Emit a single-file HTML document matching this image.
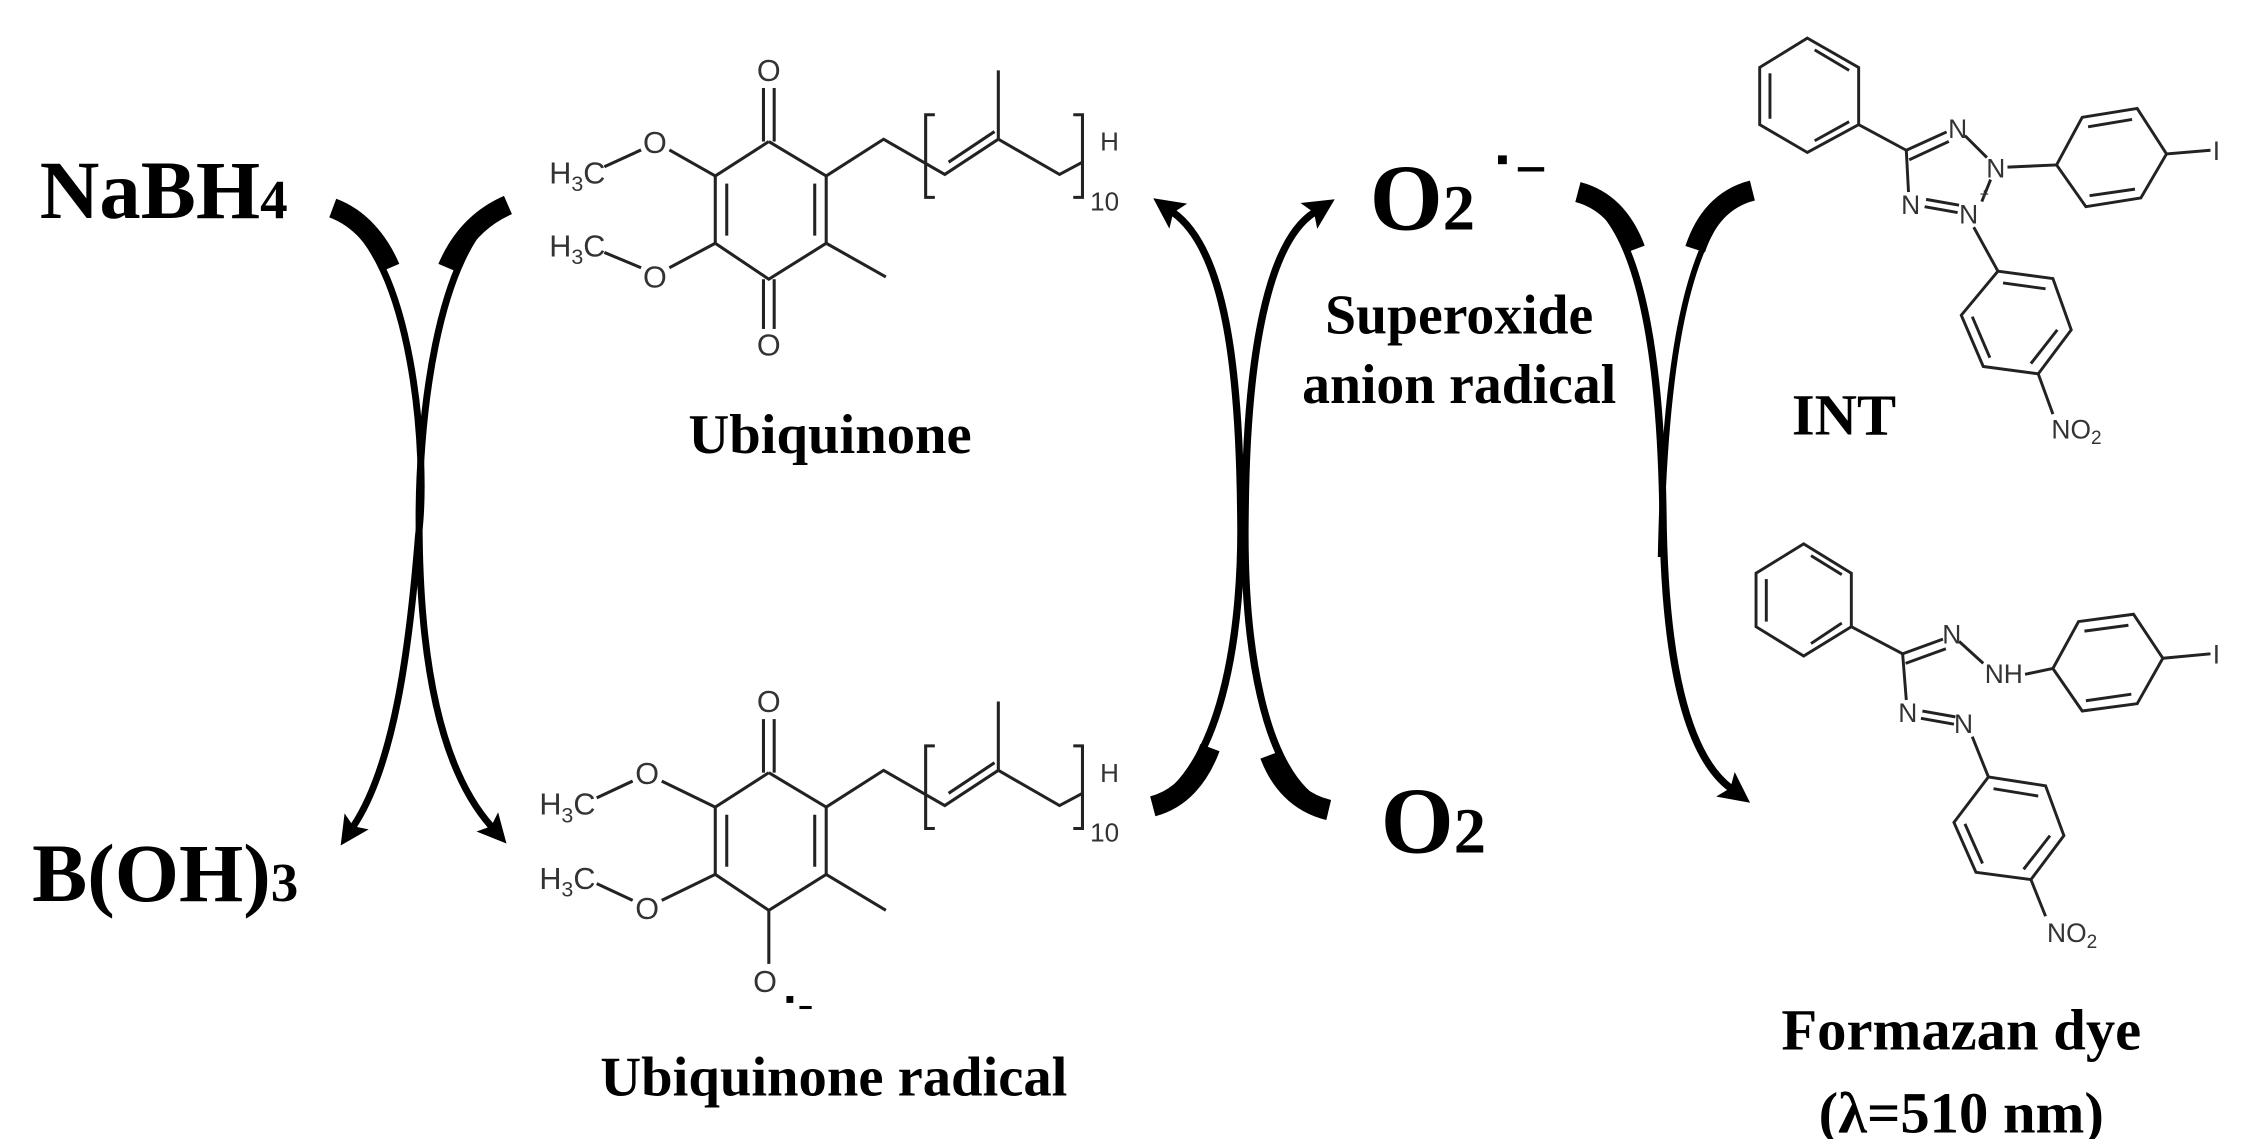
<!DOCTYPE html>
<html><head><meta charset="utf-8"><style>
html,body{margin:0;padding:0;background:#fff;}
svg{display:block;}
.big{font-family:"Liberation Serif",serif;font-weight:bold;fill:#000;}
.lab{font-family:"Liberation Sans",sans-serif;fill:#333;}
</style></head><body>
<svg width="2249" height="1139" viewBox="0 0 2249 1139" xmlns="http://www.w3.org/2000/svg">
<defs>
<marker id="ah" viewBox="0 0 10 10" refX="2" refY="5" markerWidth="4.2" markerHeight="4.2" orient="auto" markerUnits="strokeWidth">
<path d="M0,0 L10,5 L0,10 L2,5 Z" fill="#000"/>
</marker>
</defs>
<!-- LEFT HALF (zoom1 coords, scale .765) -->
<g transform="scale(0.765)">
<text class="big" x="52" y="285" font-size="108">NaBH<tspan font-size="72">4</tspan></text>
<text class="big" x="42" y="1178" font-size="108">B(OH)<tspan font-size="72">3</tspan></text>
<text class="big" x="1085" y="592" font-size="74" text-anchor="middle">Ubiquinone</text>
<text class="big" x="1090" y="1432" font-size="74" text-anchor="middle">Ubiquinone radical</text>

<!-- arrows -->
<g fill="none" stroke="#000" stroke-linecap="butt">
<path d="M440,280 C540,330 560,600 547,700 C535,850 515,1000 462,1080" stroke-width="9" marker-end="url(#ah)"/>
<path d="M435,272 C470,285 495,315 510,350" stroke-width="26"/>
<path d="M660,270 C570,320 545,560 548,700 C550,880 580,1010 642,1080" stroke-width="9" marker-end="url(#ah)"/>
<path d="M664,268 C625,285 600,315 585,350" stroke-width="26"/>
</g>

<!-- top ubiquinone -->
<g id="ubq" stroke="#222" stroke-width="4" fill="none">
<polyline points="1005,185 1080,230 1080,318 1005,365 935,318 935,230 1005,185"/>
<line x1="950" y1="240" x2="950" y2="308"/>
<line x1="1065" y1="240" x2="1065" y2="308"/>
<line x1="998" y1="115" x2="998" y2="185"/><line x1="1012" y1="115" x2="1012" y2="185"/>
<line x1="935" y1="230" x2="875" y2="196"/>
<line x1="838" y1="196" x2="790" y2="218"/>
<line x1="935" y1="318" x2="875" y2="350"/>
<line x1="838" y1="350" x2="790" y2="330"/>
<line x1="1080" y1="318" x2="1158" y2="362"/>
<polyline points="1080,230 1155,182 1235,228 1305,182 1385,228 1415,212"/>
<line x1="1240" y1="212" x2="1300" y2="172"/>
<line x1="1305" y1="182" x2="1305" y2="92"/>
<polyline points="1222,150 1210,150 1210,258 1222,258"/>
<polyline points="1403,150 1415,150 1415,258 1403,258"/>
</g>
<g class="lab" font-size="40">
<text x="1005" y="106" text-anchor="middle">O</text>
<text x="856" y="200" text-anchor="middle">O</text>
<text x="856" y="376" text-anchor="middle">O</text>
<text x="718" y="240">H<tspan font-size="28" dy="10">3</tspan><tspan dy="-10">C</tspan></text>
<text x="718" y="335">H<tspan font-size="28" dy="10">3</tspan><tspan dy="-10">C</tspan></text>
<text x="1438" y="197" font-size="34">H</text>
<text x="1425" y="275" font-size="34">10</text>
</g>
<!-- bottom O top -->
<g stroke="#222" stroke-width="4" fill="none">
<line x1="998" y1="365" x2="998" y2="430"/><line x1="1012" y1="365" x2="1012" y2="430"/>
</g>
<text class="lab" x="1005" y="465" font-size="40" text-anchor="middle">O</text>

<!-- bottom radical -->
<g transform="translate(-5,825)">
<g stroke="#222" stroke-width="4" fill="none">
<polyline points="1010,185 1085,230 1085,318 1010,365 940,318 940,230 1010,185"/>
<line x1="955" y1="240" x2="955" y2="308"/>
<line x1="1070" y1="240" x2="1070" y2="308"/>
<line x1="1003" y1="115" x2="1003" y2="185"/><line x1="1017" y1="115" x2="1017" y2="185"/>
<line x1="940" y1="230" x2="870" y2="196"/>
<line x1="832" y1="196" x2="785" y2="218"/>
<line x1="940" y1="318" x2="870" y2="352"/>
<line x1="832" y1="352" x2="785" y2="330"/>
<line x1="1085" y1="318" x2="1163" y2="365"/>
<line x1="1010" y1="365" x2="1010" y2="435"/>
<polyline points="1085,230 1160,182 1240,228 1310,182 1390,228 1420,212"/>
<line x1="1245" y1="212" x2="1305" y2="172"/>
<line x1="1310" y1="182" x2="1310" y2="92"/>
<polyline points="1227,150 1215,150 1215,258 1227,258"/>
<polyline points="1408,150 1420,150 1420,258 1408,258"/>
</g>
<g class="lab" font-size="40">
<text x="1010" y="106" text-anchor="middle">O</text>
<text x="851" y="200" text-anchor="middle">O</text>
<text x="851" y="376" text-anchor="middle">O</text>
<text x="710" y="240">H<tspan font-size="28" dy="10">3</tspan><tspan dy="-10">C</tspan></text>
<text x="710" y="337">H<tspan font-size="28" dy="10">3</tspan><tspan dy="-10">C</tspan></text>
<text x="1443" y="197" font-size="34">H</text>
<text x="1430" y="275" font-size="34">10</text>
<text x="1005" y="472" text-anchor="middle">O</text>
</g>
<rect x="1033" y="477" width="9" height="9" fill="#000"/>
<rect x="1050" y="490" width="16" height="4" fill="#000"/>
</g>
</g>

<!-- RIGHT HALF (zoom2 coords) -->
<g transform="translate(1100,0) scale(0.733)">
<text class="big" x="368" y="313" font-size="128">O<tspan font-size="88">2</tspan></text>
<rect x="543" y="212" width="12" height="12" fill="#000"/>
<rect x="570" y="228" width="36" height="6" fill="#000"/>
<text class="big" x="383" y="1163" font-size="128">O<tspan font-size="88">2</tspan></text>
<text class="big" x="490" y="455" font-size="76" text-anchor="middle">Superoxide</text>
<text class="big" x="490" y="550" font-size="76" text-anchor="middle">anion radical</text>
<text class="big" x="1015" y="593" font-size="80" text-anchor="middle">INT</text>
<text class="big" x="1175" y="1432" font-size="80" text-anchor="middle">Formazan dye</text>
<text class="big" x="1175" y="1545" font-size="80" text-anchor="middle">(λ=510 nm)</text>

<g fill="none" stroke="#000">
<path d="M78,1095 C170,1040 195,850 192,700 C190,500 170,340 100,290" stroke-width="10" marker-end="url(#ah)"/>
<path d="M72,1100 C110,1090 135,1060 150,1020" stroke-width="28"/>
<path d="M308,1100 C220,1060 195,870 198,700 C200,480 230,330 292,290" stroke-width="10" marker-end="url(#ah)"/>
<path d="M312,1105 C270,1095 245,1065 232,1030" stroke-width="28"/>
<path d="M655,265 C740,300 765,500 768,700 C770,900 800,1030 860,1075" stroke-width="10" marker-end="url(#ah)"/>
<path d="M652,262 C690,272 715,300 730,340" stroke-width="28"/>
<path d="M888,258 C800,300 770,500 765,760" stroke-width="8"/>
<path d="M890,260 C850,270 825,300 812,340" stroke-width="28"/>
</g>

<!-- INT -->
<g stroke="#222" stroke-width="4" fill="none">
<polygon points="965,52 1035,92 1035,170 965,208 900,170 900,92"/>
<line x1="975" y1="68" x2="1022" y2="96"/><line x1="1022" y1="166" x2="975" y2="192"/><line x1="914" y1="100" x2="914" y2="162"/>
<line x1="1035" y1="170" x2="1100" y2="205"/>
<line x1="1100" y1="205" x2="1155" y2="180"/><line x1="1104" y1="218" x2="1158" y2="193"/>
<line x1="1180" y1="185" x2="1210" y2="215"/>
<line x1="1100" y1="205" x2="1103" y2="262"/>
<line x1="1125" y1="282" x2="1170" y2="290"/><line x1="1127" y1="272" x2="1172" y2="280"/>
<line x1="1215" y1="245" x2="1203" y2="275"/>
<line x1="1238" y1="228" x2="1305" y2="225"/>
<polygon points="1305,225 1340,160 1415,148 1455,210 1420,270 1345,282"/>
<line x1="1348" y1="173" x2="1408" y2="163"/><line x1="1412" y1="258" x2="1350" y2="267"/><line x1="1320" y1="225" x2="1350" y2="170" stroke-width="0"/>
<line x1="1455" y1="210" x2="1515" y2="205"/>
<line x1="1192" y1="310" x2="1225" y2="370"/>
<polygon points="1225,370 1300,380 1325,450 1280,510 1205,500 1175,430"/>
<line x1="1232" y1="386" x2="1290" y2="394"/><line x1="1190" y1="432" x2="1214" y2="488"/><line x1="1306" y1="450" x2="1270" y2="496"/>
<line x1="1280" y1="510" x2="1300" y2="565"/>
</g>
<g class="lab" font-size="36">
<text x="1170" y="188" text-anchor="middle">N</text>
<text x="1222" y="242" text-anchor="middle">N</text>
<text x="1106" y="292" text-anchor="middle">N</text>
<text x="1185" y="305" text-anchor="middle">N</text>
<text x="1200" y="272" font-size="22">+</text>
<text x="1518" y="218">I</text>
<text x="1298" y="598">NO<tspan font-size="26" dy="8">2</tspan></text>
</g>

<!-- Formazan -->
<g stroke="#222" stroke-width="4" fill="none">
<polygon points="960,742 1025,782 1025,855 960,895 895,855 895,782"/>
<line x1="970" y1="758" x2="1012" y2="784"/><line x1="1012" y1="850" x2="970" y2="878"/><line x1="909" y1="790" x2="909" y2="848"/>
<line x1="1025" y1="855" x2="1095" y2="892"/>
<line x1="1095" y1="892" x2="1150" y2="872"/><line x1="1099" y1="905" x2="1154" y2="885"/>
<line x1="1172" y1="875" x2="1205" y2="905"/>
<line x1="1262" y1="920" x2="1300" y2="912"/>
<polygon points="1300,912 1335,848 1410,838 1450,898 1415,960 1340,970"/>
<line x1="1343" y1="861" x2="1403" y2="853"/><line x1="1407" y1="947" x2="1345" y2="956"/>
<line x1="1450" y1="898" x2="1515" y2="892"/>
<line x1="1095" y1="892" x2="1100" y2="955"/>
<line x1="1120" y1="980" x2="1165" y2="988"/><line x1="1122" y1="970" x2="1167" y2="978"/>
<line x1="1190" y1="1005" x2="1212" y2="1060"/>
<polygon points="1212,1060 1290,1072 1315,1140 1270,1200 1195,1190 1165,1122"/>
<line x1="1219" y1="1076" x2="1280" y2="1086"/><line x1="1180" y1="1124" x2="1204" y2="1178"/><line x1="1296" y1="1140" x2="1260" y2="1186"/>
<line x1="1270" y1="1200" x2="1290" y2="1250"/>
</g>
<g class="lab" font-size="36">
<text x="1162" y="878" text-anchor="middle">N</text>
<text x="1233" y="932" text-anchor="middle">NH</text>
<text x="1102" y="985" text-anchor="middle">N</text>
<text x="1178" y="1000" text-anchor="middle">N</text>
<text x="1518" y="905">I</text>
<text x="1292" y="1285">NO<tspan font-size="26" dy="8">2</tspan></text>
</g>
</g>
</svg>
</body></html>
